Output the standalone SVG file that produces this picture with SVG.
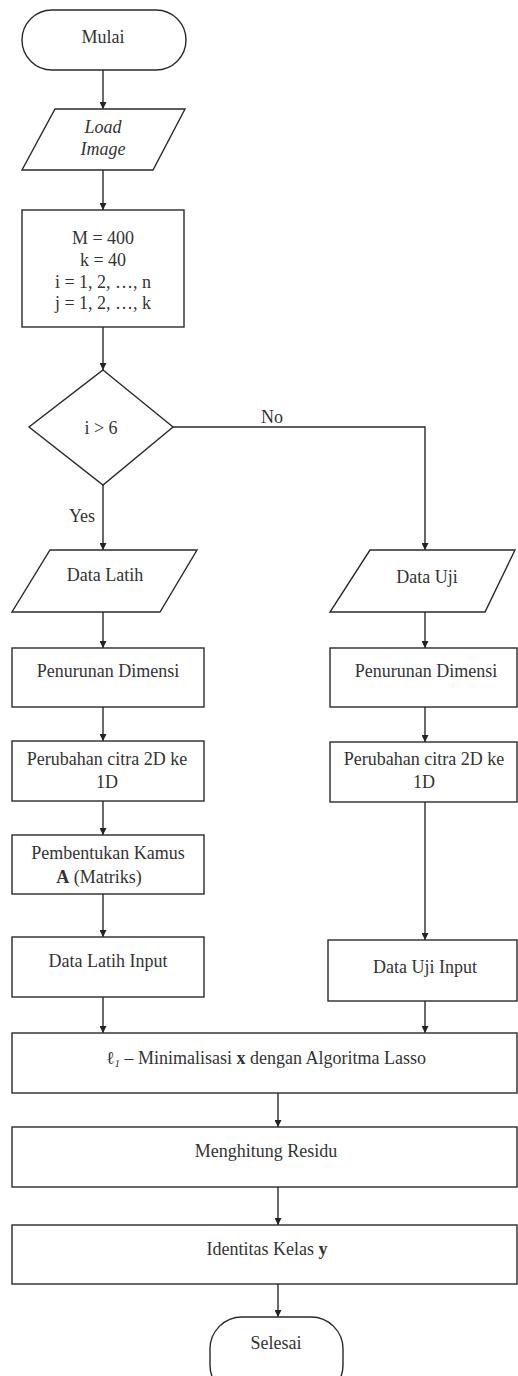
<svg xmlns="http://www.w3.org/2000/svg" width="518" height="1376" viewBox="0 0 518 1376">
<style>
.s{fill:#fff;stroke:#2a2a2a;stroke-width:1.4}
.c{fill:none;stroke:#2a2a2a;stroke-width:1.4}
text{font-family:"Liberation Serif","Times New Roman",serif;font-size:18px;fill:#333;text-anchor:middle}
.b{font-weight:bold}
.i{font-style:italic}
</style>
<defs>
<marker id="ah" viewBox="0 0 10 10" refX="10" refY="5" markerWidth="7" markerHeight="7" markerUnits="userSpaceOnUse" orient="auto">
<path d="M0,0 L10,5 L0,10 z" fill="#222"/>
</marker>
</defs>
<rect width="518" height="1376" fill="#fff"/>
<g id="connectors">
<line class="c" x1="103" y1="70" x2="103" y2="109" marker-end="url(#ah)"/>
<line class="c" x1="103" y1="170" x2="103" y2="210" marker-end="url(#ah)"/>
<line class="c" x1="103" y1="327" x2="103" y2="370" marker-end="url(#ah)"/>
<line class="c" x1="103" y1="485" x2="103" y2="550" marker-end="url(#ah)"/>
<polyline class="c" points="173,427 425,427 425,550" marker-end="url(#ah)"/>
<line class="c" x1="103" y1="612" x2="103" y2="648" marker-end="url(#ah)"/>
<line class="c" x1="103" y1="707" x2="103" y2="741" marker-end="url(#ah)"/>
<line class="c" x1="103" y1="801" x2="103" y2="835" marker-end="url(#ah)"/>
<line class="c" x1="103" y1="894" x2="103" y2="937" marker-end="url(#ah)"/>
<line class="c" x1="103" y1="997" x2="103" y2="1033" marker-end="url(#ah)"/>
<line class="c" x1="425" y1="612" x2="425" y2="648" marker-end="url(#ah)"/>
<line class="c" x1="425" y1="707" x2="425" y2="742" marker-end="url(#ah)"/>
<line class="c" x1="425" y1="802" x2="425" y2="940" marker-end="url(#ah)"/>
<line class="c" x1="425" y1="1001" x2="425" y2="1033" marker-end="url(#ah)"/>
<line class="c" x1="278" y1="1093" x2="278" y2="1127" marker-end="url(#ah)"/>
<line class="c" x1="278" y1="1187" x2="278" y2="1225" marker-end="url(#ah)"/>
<line class="c" x1="278" y1="1284" x2="278" y2="1317" marker-end="url(#ah)"/>
<text x="272" y="423">No</text>
<text x="82" y="522">Yes</text>
</g>
<g id="mulai">
<rect class="s" x="22" y="10" width="164" height="60" rx="30" ry="30"/>
<text x="103" y="43">Mulai</text>
</g>
<g id="load-image">
<polygon class="s" points="55,109 185,109 153,170 22,170"/>
<text class="i" x="103" y="133">Load</text>
<text class="i" x="103" y="155">Image</text>
</g>
<g id="init">
<rect class="s" x="22" y="210" width="162" height="117"/>
<text x="103" y="244">M = 400</text>
<text x="103" y="266">k = 40</text>
<text x="103" y="288">i = 1, 2, …, n</text>
<text x="103" y="309">j = 1, 2, …, k</text>
</g>
<g id="decision">
<polygon class="s" points="103,370 173,427 103,485 29,427"/>
<text x="101" y="434">i &gt; 6</text>
</g>
<g id="data-latih">
<polygon class="s" points="50,550 197,550 160,612 12,612"/>
<text x="105" y="581">Data Latih</text>
</g>
<g id="data-uji">
<polygon class="s" points="370,550 515,550 485,612 330,612"/>
<text x="427" y="583">Data Uji</text>
</g>
<g id="penurunan-l">
<rect class="s" x="12" y="648" width="192" height="59"/>
<text x="108" y="677">Penurunan Dimensi</text>
</g>
<g id="penurunan-r">
<rect class="s" x="330" y="648" width="187" height="59"/>
<text x="426" y="677">Penurunan Dimensi</text>
</g>
<g id="perubahan-l">
<rect class="s" x="12" y="741" width="192" height="60"/>
<text x="107" y="765">Perubahan citra 2D ke</text>
<text x="107" y="788">1D</text>
</g>
<g id="perubahan-r">
<rect class="s" x="330" y="742" width="187" height="60"/>
<text x="424" y="765">Perubahan citra 2D ke</text>
<text x="424" y="788">1D</text>
</g>
<g id="kamus">
<rect class="s" x="12" y="835" width="192" height="59"/>
<text x="108" y="859">Pembentukan Kamus</text>
<text x="99" y="883"><tspan class="b">A</tspan> (Matriks)</text>
</g>
<g id="latih-input">
<rect class="s" x="12" y="937" width="192" height="60"/>
<text x="108" y="967">Data Latih Input</text>
</g>
<g id="uji-input">
<rect class="s" x="328" y="940" width="189" height="61"/>
<text x="425" y="973">Data Uji Input</text>
</g>
<g id="lasso">
<rect class="s" x="12" y="1033" width="505" height="60"/>
<text x="266" y="1064">ℓ<tspan class="i" font-size="11" dy="3">1</tspan><tspan dy="-3"> – Minimalisasi </tspan><tspan class="b">x</tspan> dengan Algoritma Lasso</text>
</g>
<g id="residu">
<rect class="s" x="12" y="1127" width="505" height="60"/>
<text x="266" y="1157">Menghitung Residu</text>
</g>
<g id="identitas">
<rect class="s" x="12" y="1225" width="505" height="59"/>
<text x="267" y="1255">Identitas Kelas <tspan class="b">y</tspan></text>
</g>
<g id="selesai">
<rect class="s" x="210" y="1317" width="133" height="80" rx="32" ry="32"/>
<text x="276" y="1349">Selesai</text>
</g>
</svg>
